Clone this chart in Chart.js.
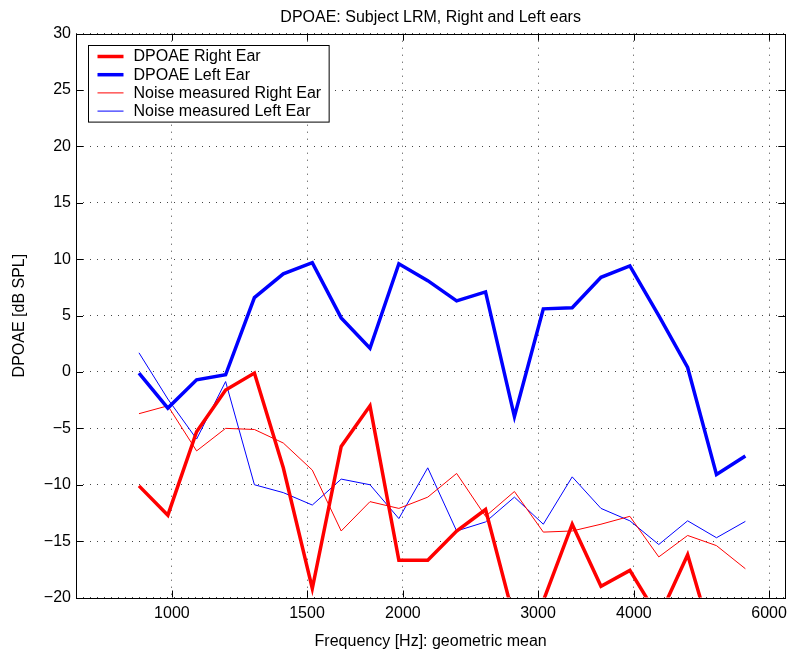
<!DOCTYPE html>
<html>
<head>
<meta charset="utf-8">
<script src="https://cdn.jsdelivr.net/npm/chart.js@4.4.1/dist/chart.umd.min.js"></script>
<style>
  html, body { margin: 0; padding: 0; background: #fff; }
  canvas { display: block; }
</style>
</head>
<body>
<canvas id="dpoaeChart" width="793" height="655"></canvas>
<script>
const chartTitle = 'DPOAE: Subject LRM, Right and Left ears'
const xTitle = 'Frequency [Hz]: geometric mean'
const yTitle = 'DPOAE [dB SPL]'

// geometric mean frequencies, 1/8 octave apart
const freqs = [906, 988, 1077, 1175, 1281, 1397, 1524, 1662, 1812, 1976, 2155,
  2350, 2563, 2795, 3048, 3324, 3624, 3952, 4310, 4700, 5125, 5589]

const dpoaeRight = [-10.1, -12.7, -5.3, -1.6, -0.1, -8.5, -19.2, -6.6, -3.0, -16.7, -16.7,
  -14.1, -12.2, -22.0, -20.3, -13.5, -19.0, -17.6, -21.8, -16.2, -25.0, -24.0]
const dpoaeLeft = [-0.1, -3.2, -0.7, -0.25, 6.6, 8.7, 9.7, 4.8, 2.1, 9.6, 8.1,
  6.3, 7.1, -3.95, 5.6, 5.7, 8.4, 9.4, 5.0, 0.4, -9.1, -7.45]
const noiseRight = [-3.7, -3.0, -7.0, -5.0, -5.1, -6.3, -8.7, -14.1, -11.5, -12.1, -11.1,
  -9.0, -12.8, -10.6, -14.2, -14.1, -13.5, -12.8, -16.4, -14.5, -15.4, -17.45]
const noiseLeft = [1.7, -2.4, -5.95, -0.85, -10.0, -10.7, -11.8, -9.5, -10.0, -13.0, -8.5,
  -14.1, -13.3, -11.1, -13.5, -9.3, -12.1, -13.2, -15.3, -13.2, -14.7, -13.25]

const seriesLabels = ['DPOAE Right Ear', 'DPOAE Left Ear', 'Noise measured Right Ear', 'Noise measured Left Ear']

const xTicks = [1000, 1500, 2000, 3000, 4000, 6000]
const xMin = 750
const xMax = 6300
const yMin = -20
const yMax = 30
const yStep = 5

const FONT = 'Liberation Sans, Arial, Helvetica, sans-serif'
Chart.defaults.font.family = FONT
Chart.defaults.font.size = 16
Chart.defaults.color = '#000'

const toPoints = vals => vals.map((v, i) => ({x: freqs[i], y: v}))

const line = (label, vals, color, width) => ({
  label,
  data: toPoints(vals),
  borderColor: color,
  backgroundColor: color,
  borderWidth: width,
  borderJoinStyle: 'miter',
  pointRadius: 0,
  tension: 0,
  clip: 0
})

// box round the axes and inward tick marks, like matlab
const matlabFrame = {
  id: 'matlabFrame',
  afterDatasetsDraw(chart) {
    const {ctx, chartArea: a, scales} = chart
    const len = 7
    ctx.save()
    ctx.strokeStyle = '#000'
    ctx.lineWidth = 1
    ctx.beginPath()
    scales.y.ticks.forEach(t => {
      const y = Math.round(scales.y.getPixelForValue(t.value)) + 0.5
      ctx.moveTo(a.left, y); ctx.lineTo(a.left + len, y)
      ctx.moveTo(a.right, y); ctx.lineTo(a.right - len, y)
    })
    xTicks.forEach(v => {
      const x = Math.round(scales.x.getPixelForValue(v)) + 0.5
      ctx.moveTo(x, a.bottom); ctx.lineTo(x, a.bottom - len)
      ctx.moveTo(x, a.top); ctx.lineTo(x, a.top + len)
    })
    ctx.stroke()
    ctx.strokeRect(Math.round(a.left) + 0.5, Math.round(a.top) + 0.5,
      Math.round(a.right) - Math.round(a.left), Math.round(a.bottom) - Math.round(a.top))
    ctx.restore()
  }
}

// legend box in the top left corner of the plot
const insetLegend = {
  id: 'insetLegend',
  afterDraw(chart) {
    const {ctx, chartArea: a} = chart
    const sets = chart.data.datasets
    ctx.save()
    ctx.font = '16px ' + FONT
    const textW = Math.max(...sets.map(d => ctx.measureText(d.label).width))
    const left = Math.round(a.left) + 12.5
    const top = Math.round(a.top) + 11.5
    const rowH = 18.2
    const w = 45 + textW + 8
    const h = 22 + rowH * (sets.length - 1)
    ctx.fillStyle = '#fff'
    ctx.fillRect(left, top, w, h)
    ctx.strokeStyle = '#000'
    ctx.lineWidth = 1
    ctx.strokeRect(left, top, w, h)
    ctx.textBaseline = 'middle'
    ctx.textAlign = 'left'
    sets.forEach((d, i) => {
      const y = top + 11 + i * rowH
      ctx.strokeStyle = d.borderColor
      ctx.lineWidth = d.borderWidth
      ctx.beginPath()
      ctx.moveTo(left + 9, y)
      ctx.lineTo(left + 35, y)
      ctx.stroke()
      ctx.fillStyle = '#000'
      ctx.fillText(d.label, left + 45, y + 0.5)
    })
    ctx.restore()
  }
}

new Chart(document.getElementById('dpoaeChart'), {
  type: 'line',
  data: {
    datasets: [
      line(seriesLabels[0], dpoaeRight, '#ff0000', 3.5),
      line(seriesLabels[1], dpoaeLeft, '#0000ff', 3.5),
      line(seriesLabels[2], noiseRight, '#ff0000', 1),
      line(seriesLabels[3], noiseLeft, '#0000ff', 1)
    ]
  },
  options: {
    responsive: false,
    animation: false,
    events: [],
    layout: {
      padding: {top: 0, right: 2.3, bottom: 0, left: 0}
    },
    plugins: {
      legend: {display: false},
      tooltip: {enabled: false},
      title: {
        display: true,
        text: chartTitle,
        fullSize: false,
        color: '#000',
        font: {size: 16, weight: 'normal', lineHeight: 1.2},
        padding: {top: 7.5, bottom: 7}
      }
    },
    scales: {
      x: {
        type: 'logarithmic',
        min: xMin,
        max: xMax,
        afterBuildTicks: s => { s.ticks = xTicks.map(v => ({value: v})) },
        afterFit: s => { s.height = 57.5 },
        grid: {color: '#444', lineWidth: 1, drawTicks: false},
        border: {display: false, dash: [1, 6]},
        ticks: {
          autoSkip: false,
          maxRotation: 0,
          padding: 6,
          font: {size: 16},
          callback: v => String(v)
        },
        title: {
          display: true,
          text: xTitle,
          font: {size: 16, lineHeight: 1.2},
          padding: {top: 0, bottom: 3.4}
        }
      },
      y: {
        type: 'linear',
        min: yMin,
        max: yMax,
        afterFit: s => { s.width = 76 },
        grid: {color: '#444', lineWidth: 1, drawTicks: false},
        border: {display: false, dash: [1, 6]},
        ticks: {
          stepSize: yStep,
          padding: 5,
          font: {size: 16},
          callback: v => String(v).replace('-', '\u2212')
        },
        title: {
          display: true,
          text: yTitle,
          font: {size: 16, lineHeight: 1.2},
          padding: {top: 10.4, bottom: 0}
        }
      }
    }
  },
  plugins: [matlabFrame, insetLegend]
})
</script>
</body>
</html>
